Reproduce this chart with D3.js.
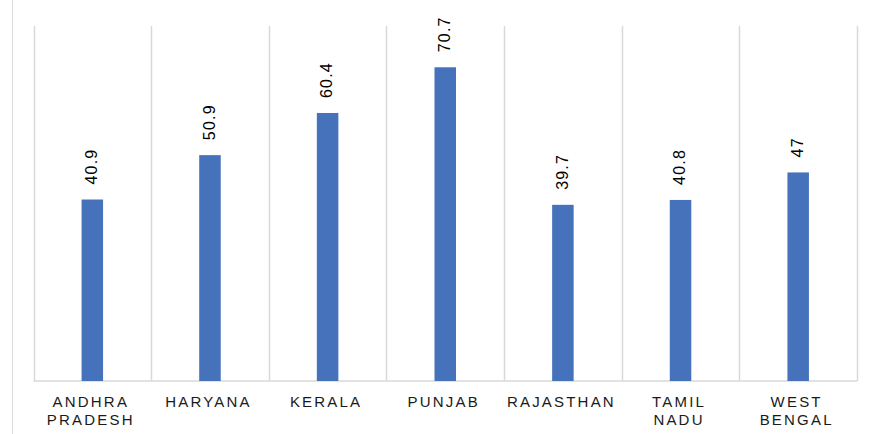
<!DOCTYPE html>
<html>
<head>
<meta charset="utf-8">
<script src="https://cdn.jsdelivr.net/npm/d3@7"></script>
<style>
  body { margin: 0; background: #fff; }
  text { font-family: "Liberation Sans", Arial, sans-serif; }
</style>
</head>
<body>
<div id="chart"></div>
<script>
var w = 872;
var h = 434;

// data
var states = ["ANDHRA PRADESH", "HARYANA", "KERALA", "PUNJAB", "RAJASTHAN", "TAMIL NADU", "WEST BENGAL"];
var stateLines = [["ANDHRA", "PRADESH"], ["HARYANA"], ["KERALA"], ["PUNJAB"], ["RAJASTHAN"], ["TAMIL", "NADU"], ["WEST", "BENGAL"]];
var values = [40.9, 50.9, 60.4, 70.7, 39.7, 40.8, 47];
var valueLabels = ["40.9", "50.9", "60.4", "70.7", "39.7", "40.8", "47"];

// plot area (note: "top" is reserved on window, so use other names)
var padLeft = 33.5, padRight = 857, padTop = 26, padBottom = 381;

var svg = d3.select("#chart")
  .append("svg")
  .attr("width", w)
  .attr("height", h);

// chart border (only the left edge shows)
svg.append("line")
  .attr("x1", 12.5).attr("x2", 12.5)
  .attr("y1", 0).attr("y2", h)
  .attr("stroke", "#d9d9d9")
  .attr("stroke-width", 1);

var x = d3.scaleBand()
  .domain(states)
  .range([padLeft, padRight])
  .paddingInner(0)
  .paddingOuter(0);

var y = d3.scaleLinear()
  .domain([0, 80])
  .range([padBottom, padTop]);

// vertical grid lines between categories
var edges = states.map(function(d) { return x(d); }).concat([padRight]);
svg.append("g")
  .selectAll("line")
  .data(edges)
  .enter()
  .append("line")
  .attr("x1", function(d) { return Math.round(d) + 0.5; })
  .attr("x2", function(d) { return Math.round(d) + 0.5; })
  .attr("y1", y(80))
  .attr("y2", y(0))
  .attr("stroke", "#d9d9d9")
  .attr("stroke-width", 1.5);

// baseline
svg.append("line")
  .attr("x1", padLeft).attr("x2", padRight)
  .attr("y1", y(0)).attr("y2", y(0))
  .attr("stroke", "#d9d9d9")
  .attr("stroke-width", 1.5);

var barW = 21.5;

svg.append("g")
  .selectAll("rect")
  .data(values)
  .enter()
  .append("rect")
  .attr("x", function(d, i) { return x(states[i]) + x.bandwidth() / 2 - barW / 2; })
  .attr("y", function(d) { return y(d); })
  .attr("width", barW)
  .attr("height", function(d) { return y(0) - y(d); })
  .attr("fill", "#4672bb");

// value labels, rotated
svg.append("g")
  .selectAll("text")
  .data(values)
  .enter()
  .append("text")
  .attr("transform", function(d, i) {
    var cx = x(states[i]) + x.bandwidth() / 2;
    return "translate(" + cx + "," + (y(d) - 15) + ") rotate(-90)";
  })
  .attr("dy", "0.3em")
  .attr("text-anchor", "start")
  .attr("font-size", 16)
  .attr("letter-spacing", 1.2)
  .attr("fill", "#000")
  .text(function(d, i) { return valueLabels[i]; });

// category labels
var cat = svg.append("g")
  .selectAll("text")
  .data(stateLines)
  .enter()
  .append("text")
  .attr("text-anchor", "middle")
  .attr("font-size", 15)
  .attr("letter-spacing", 2.2)
  .attr("fill", "#1a1a1a");

cat.each(function(lines, i) {
  var cx = x(states[i]) + x.bandwidth() / 2 - 1.5;
  d3.select(this).selectAll("tspan")
    .data(lines)
    .enter()
    .append("tspan")
    .attr("x", cx)
    .attr("y", function(d, j) { return 406.5 + j * 18.3; })
    .text(function(d) { return d; });
});
</script>
</body>
</html>
